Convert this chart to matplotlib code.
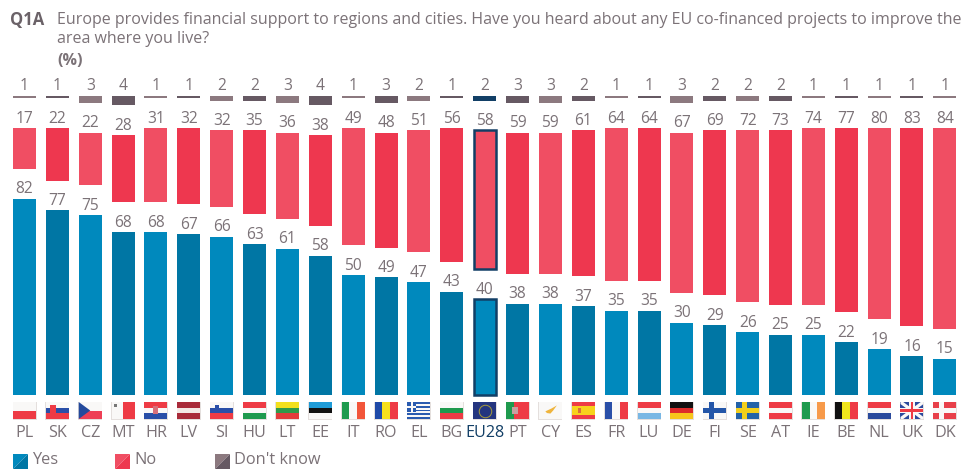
import matplotlib
matplotlib.use("Agg")
import matplotlib.pyplot as plt
from matplotlib.patches import Rectangle, Polygon

countries = ["PL", "SK", "CZ", "MT", "HR", "LV", "SI", "HU", "LT", "EE", "IT", "RO", "EL", "BG", "EU28",
             "PT", "CY", "ES", "FR", "LU", "DE", "FI", "SE", "AT", "IE", "BE", "NL", "UK", "DK"]
yes = [82, 77, 75, 68, 68, 67, 66, 63, 61, 58, 50, 49, 47, 43, 40, 38, 38, 37, 35, 35, 30, 29, 26, 25, 25, 22, 19, 16, 15]
no = [17, 22, 22, 28, 31, 32, 32, 35, 36, 38, 49, 48, 51, 56, 58, 59, 59, 61, 64, 64, 67, 69, 72, 73, 74, 77, 80, 83, 84]
dont_know = [1, 1, 3, 4, 1, 1, 2, 2, 3, 4, 1, 3, 2, 1, 2, 3, 3, 2, 1, 1, 3, 2, 2, 2, 1, 1, 1, 1, 1]

title_1 = "Europe provides financial support to regions and cities. Have you heard about any EU co-financed projects to improve the"
title_2 = "area where you live?"

YES_C = ["#0089bd", "#0076a4"]
NO_C = ["#f04e63", "#ee374f"]
DK_C = ["#8c797f", "#665963"]
EU_C = "#123f66"
TEXT_C = "#7b7277"
GAP = 12.5  # white space between the stacks, in %

W, H = 965, 469
X0, DX = 24.5, 32.87  # pixel position of first bar, spacing
Y0, DY = 394.5, 2.39  # pixel position of zero, pixels per %

plt.rcParams["font.family"] = ["Open Sans", "DejaVu Sans"]
fig = plt.figure(figsize=(W / 100, H / 100), dpi=100)
ax = fig.add_axes([0, 0, 1, 1])
ax.set_xlim(-X0 / DX, (W - X0) / DX)
ax.set_ylim((Y0 - H) / DY, Y0 / DY)
ax.axis("off")


def px(x, y):
    return x / W, 1 - y / H


x = list(range(len(countries)))
for i in x:
    k = i % 2
    is_eu = countries[i] == "EU28"
    ec = EU_C if is_eu else "none"
    lw = 1.8 if is_eu else 0
    c_yes = YES_C[0] if is_eu else YES_C[k]
    c_no = NO_C[0] if is_eu else NO_C[k]
    c_dk = EU_C if is_eu else DK_C[k]
    width = 0.68 if is_eu else 0.7
    no_base = yes[i] + GAP
    dk_base = no_base + no[i] + GAP
    ax.bar(i, yes[i], width, color=c_yes, edgecolor=ec, linewidth=lw)
    ax.bar(i, no[i], width, bottom=no_base, color=c_no, edgecolor=ec, linewidth=lw)
    ax.bar(i, dont_know[i], 0.7, bottom=dk_base, color=c_dk)
    for top, val in [(yes[i], yes[i]), (no_base + no[i], no[i]), (dk_base + dont_know[i], dont_know[i])]:
        ax.annotate(str(val), (i, top), xytext=(0, 1), textcoords="offset points", ha="center", va="bottom",
                    fontsize=11.2, color=TEXT_C)
    ax.text(i, (Y0 - 433) / DY, countries[i], ha="center", va="center", fontsize=11.6,
            color=EU_C if is_eu else TEXT_C)


# flags: u, v run 0-1 across the flag, v from the top
def box(i, u0, v0, u1, v1, color):
    fx = i - 11.5 / DX + u0 * 23 / DX
    fy = (Y0 - 402 - v1 * 17) / DY
    ax.add_patch(Rectangle((fx, fy), (u1 - u0) * 23 / DX, (v1 - v0) * 17 / DY, fc=color, ec="none"))


def poly(i, pts, color):
    ax.add_patch(Polygon([(i - 11.5 / DX + u * 23 / DX, (Y0 - 402 - v * 17) / DY) for u, v in pts], fc=color, ec="none"))


def hstripes(i, colors):
    for n, c in enumerate(colors):
        box(i, 0, n / len(colors), 1, (n + 1) / len(colors), c)


def vstripes(i, colors):
    for n, c in enumerate(colors):
        box(i, n / len(colors), 0, (n + 1) / len(colors), 1, c)


def cross(i, col, bg, cx=0.36, t=0.2):
    box(i, 0, 0, 1, 1, bg)
    box(i, cx - t / 2, 0, cx + t / 2, 1, col)
    box(i, 0, 0.5 - t * 0.7, 1, 0.5 + t * 0.7, col)


WHITE = "#f9f8f7"
RED = "#ee3b45"
BLUE = "#2a4fa8"
GREEN = "#1f9a4e"
hflags = {"PL": [WHITE, RED], "SK": [WHITE, BLUE, RED], "HR": [RED, WHITE, BLUE], "LV": ["#a92b3a", "#f3e9e6", "#a92b3a"],
          "SI": [WHITE, BLUE, RED], "HU": [RED, WHITE, GREEN], "LT": ["#f3e01d", "#2f9a4a", "#e23b3b"],
          "EE": ["#1f9bd7", "#111111", WHITE], "BG": [WHITE, GREEN, RED], "ES": [RED, "#f7d21c", "#f7d21c", RED],
          "LU": [RED, WHITE, "#79b7e4"], "DE": ["#111111", "#dd2b2b", "#f7c51c"], "AT": [RED, WHITE, RED],
          "NL": [RED, WHITE, "#2a4a9c"]}
vflags = {"MT": [WHITE, RED], "IT": [GREEN, WHITE, "#f2553a"], "RO": ["#1f4aa8", "#f7e01c", RED],
          "FR": ["#2a4fa8", WHITE, RED], "IE": [GREEN, WHITE, "#f79a4a"], "BE": ["#111111", "#f0e51c", RED]}

for i, c in enumerate(countries):
    # pale frame behind the flag, shows round the white parts
    ax.add_patch(Rectangle((i - 12 / DX, (Y0 - 419.5) / DY), 24 / DX, 18 / DY, fc="#e4dfdd", ec="none"))
    if c in hflags:
        hstripes(i, hflags[c])
    elif c in vflags:
        vstripes(i, vflags[c])
    elif c == "CZ":
        hstripes(i, [WHITE, "#ee3f55"])
        poly(i, [(0, 0), (0.5, 0.5), (0, 1)], "#244a9c")
    elif c == "EL":
        hstripes(i, ["#2a5bb0", WHITE] * 4 + ["#2a5bb0"])
        box(i, 0, 0, 0.38, 0.56, "#2a5bb0")
        box(i, 0.14, 0, 0.24, 0.56, WHITE)
        box(i, 0, 0.22, 0.38, 0.34, WHITE)
    elif c == "EU28":
        box(i, 0, 0, 1, 1, "#24357f")
        ax.plot([i], [(Y0 - 410.5) / DY], "o", ms=9, mfc="none", mec="#a89c3a", mew=0.7)
    elif c == "PT":
        vstripes(i, [GREEN, RED, RED])
        box(i, 0.28, 0.3, 0.52, 0.7, "#c9a0a0")
    elif c == "CY":
        box(i, 0, 0, 1, 1, WHITE)
        poly(i, [(0.28, 0.55), (0.55, 0.38), (0.78, 0.2), (0.62, 0.5), (0.5, 0.68), (0.35, 0.65)], "#efb43c")
    elif c == "FI":
        cross(i, "#2456a8", WHITE)
    elif c == "SE":
        cross(i, "#f2cf1c", "#2463a8")
    elif c == "DK":
        cross(i, WHITE, "#e8404a")
    elif c == "UK":
        box(i, 0, 0, 1, 1, "#2c4a9c")
        poly(i, [(0, 0), (0.12, 0), (1, 0.88), (1, 1), (0.88, 1), (0, 0.12)], WHITE)
        poly(i, [(1, 0), (1, 0.12), (0.12, 1), (0, 1), (0, 0.88), (0.88, 0)], WHITE)
        box(i, 0.38, 0, 0.62, 1, WHITE)
        box(i, 0, 0.33, 1, 0.67, WHITE)
        box(i, 0.44, 0, 0.56, 1, RED)
        box(i, 0, 0.41, 1, 0.59, RED)
    if c == "SK":
        box(i, 0.2, 0.2, 0.44, 0.68, RED)
    if c == "HR":
        box(i, 0.38, 0.22, 0.6, 0.68, "#d8707a")
    if c == "SI":
        box(i, 0.22, 0.2, 0.4, 0.5, BLUE)
    if c == "MT":
        box(i, 0.1, 0.1, 0.24, 0.28, "#777777")
    if c == "ES":
        box(i, 0.25, 0.35, 0.42, 0.65, "#d8703a")

# header
fig.text(*px(10, 20), "Q1A", fontsize=12, fontweight="bold", color="#6b6268", va="center")
fig.text(*px(57, 20), title_1, fontsize=11.5, color=TEXT_C, va="center")
fig.text(*px(57, 39), title_2, fontsize=11.5, color=TEXT_C, va="center")
fig.text(*px(57, 61), "(%)", fontsize=11.5, fontweight="bold", color=TEXT_C, va="center")

# legend, two tone swatches
legend_items = [("Yes", 13, YES_C), ("No", 115, NO_C), ("Don't know", 215, DK_C)]
for label, lx, cols in legend_items:
    fig.add_artist(Polygon([px(lx, 454), px(lx + 15, 454), px(lx, 469)], transform=fig.transFigure, fc=cols[0], ec="none"))
    fig.add_artist(Polygon([px(lx + 15, 454), px(lx + 15, 469), px(lx, 469)], transform=fig.transFigure, fc=cols[1], ec="none"))
    fig.text(*px(lx + 19, 468), label, fontsize=11.8, color=TEXT_C, va="bottom")

fig.savefig("out.png", dpi=100)
